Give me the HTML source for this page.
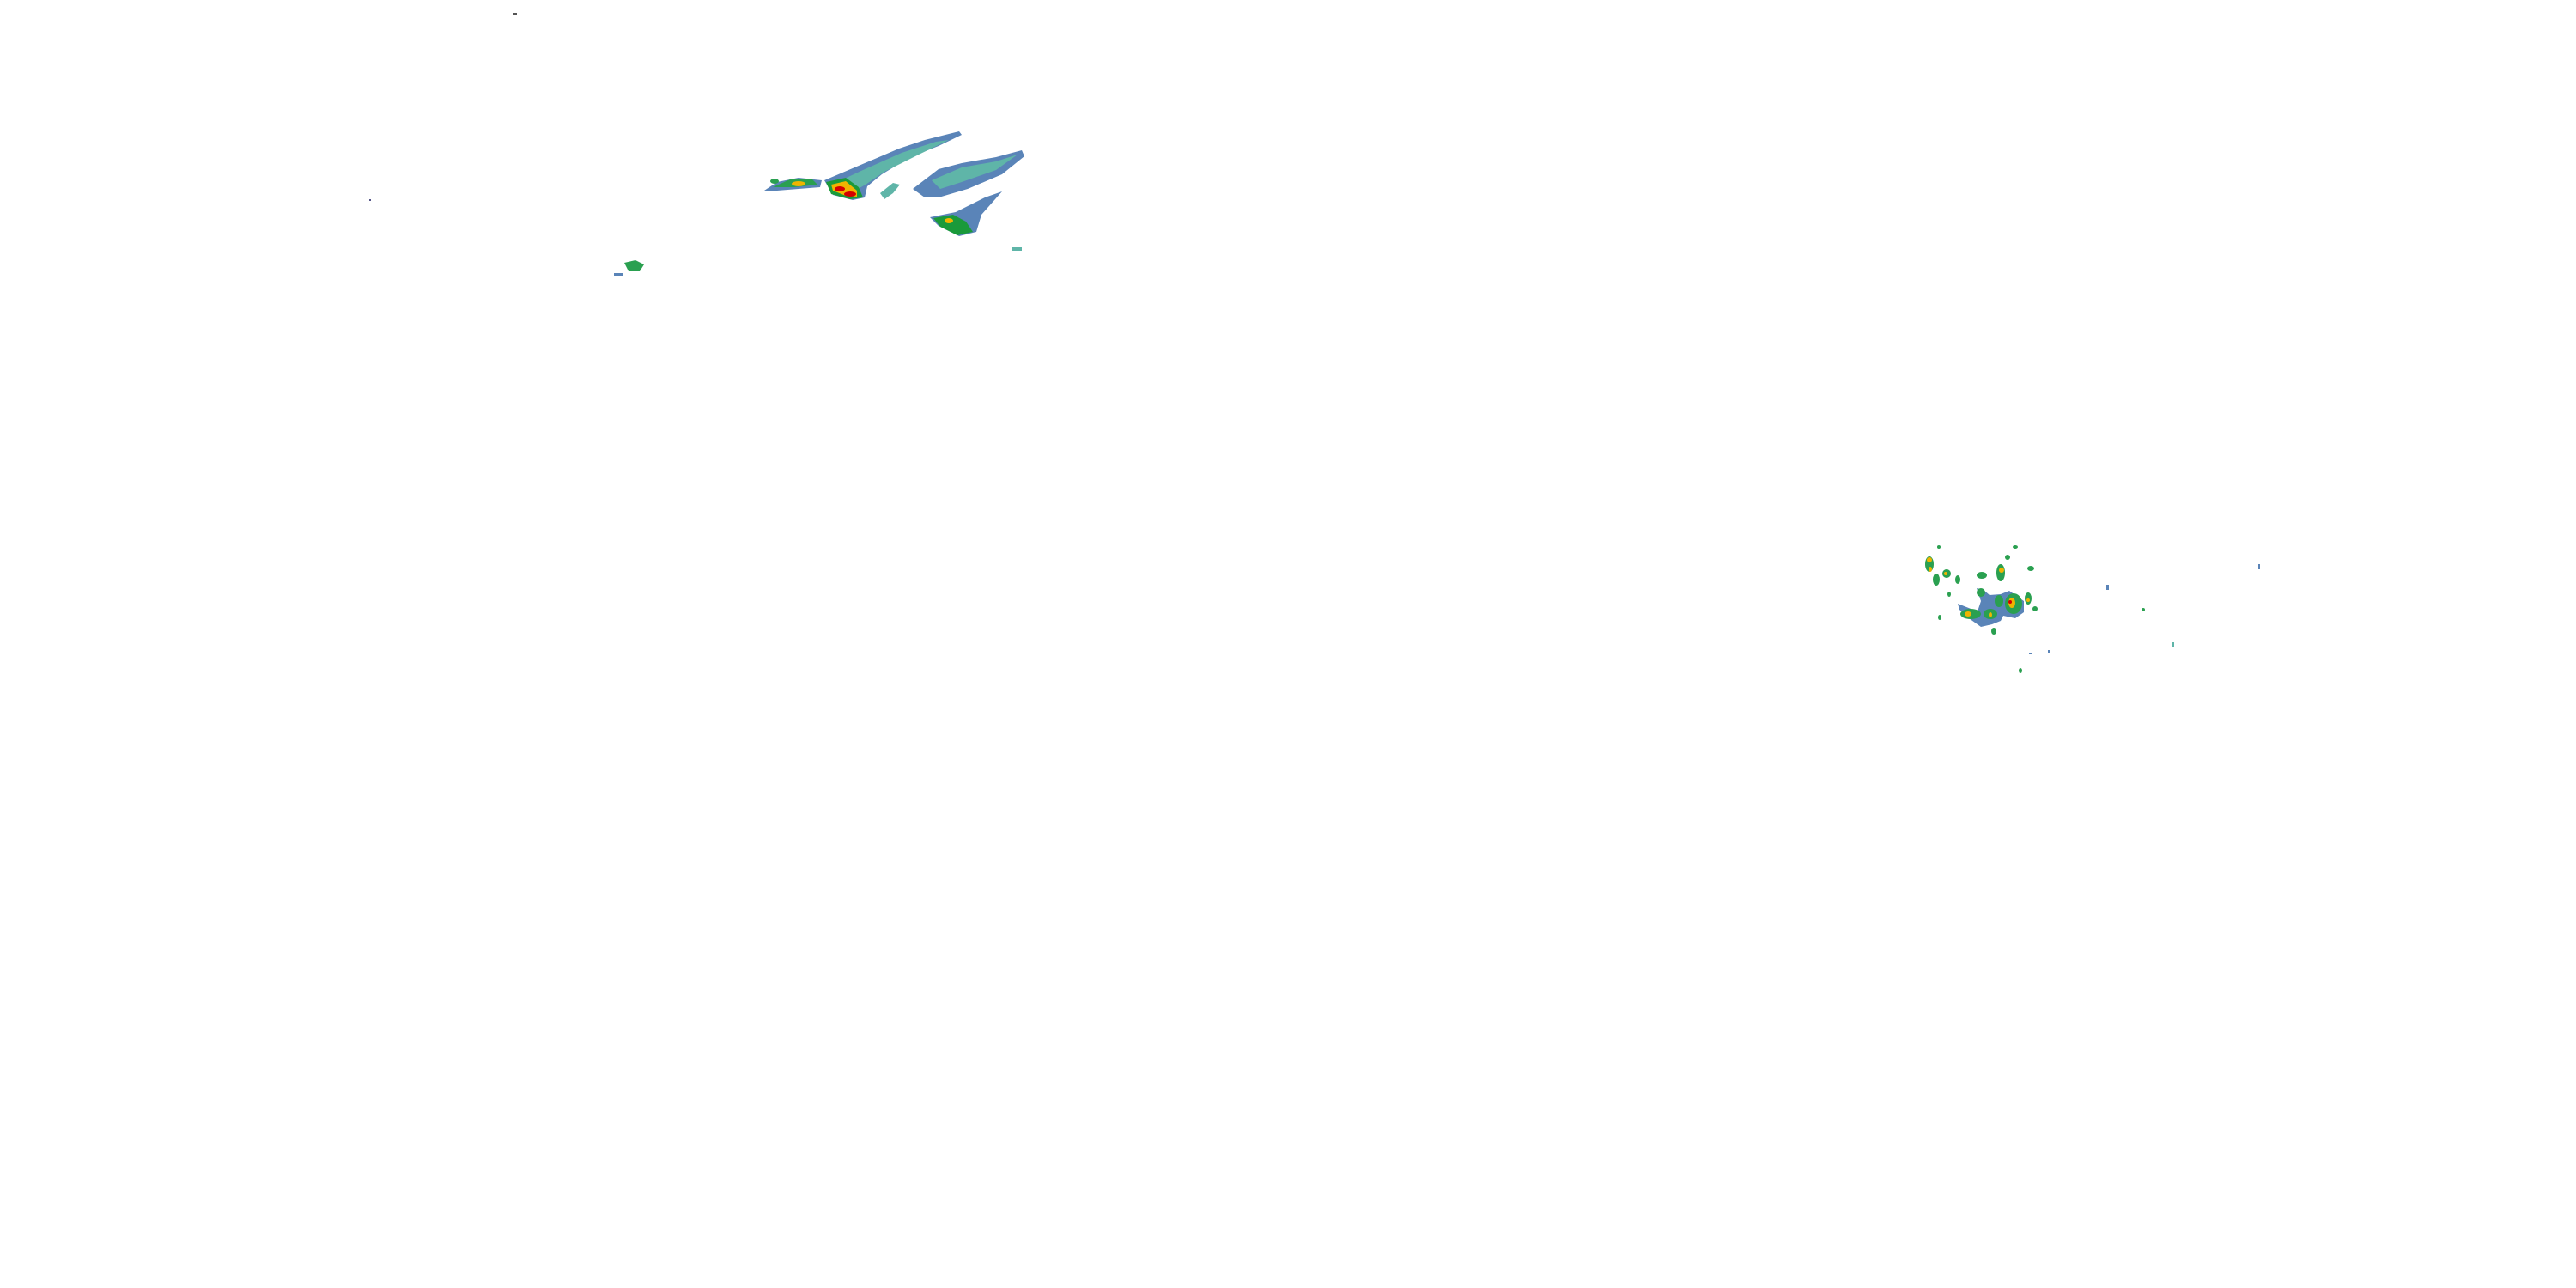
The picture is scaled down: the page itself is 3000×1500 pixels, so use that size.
<!DOCTYPE html>
<html><head><style>html,body{margin:0;padding:0;background:#fff;width:3000px;height:1500px;overflow:hidden}</style></head>
<body>
<svg width="3000" height="1500" viewBox="0 0 3000 1500" xmlns="http://www.w3.org/2000/svg">
<rect width="3000" height="1500" fill="#fff"/>
<rect x="597" y="15" width="5" height="3" fill="#555"/>
<rect x="430" y="232" width="2" height="2" fill="#558"/>
<!-- upper-left system -->
<polygon points="960,210 1000,193 1047,173 1077,163 1117,153 1120,157 1093,170 1060,183 1027,203 1010,217 1007,230 993,233 970,227" fill="#5a84b8"/>
<polygon points="975,212 1005,198 1050,178 1090,165 1105,163 1070,180 1030,200 1008,215 990,225" fill="#5fb5a8"/>
<polygon points="962,212 985,207 1000,218 1005,230 990,232 968,226" fill="#1a9a3a"/>
<polygon points="968,215 985,211 998,222 998,229 985,228 970,222" fill="#f0b400"/>
<ellipse cx="978" cy="220" rx="6" ry="3" fill="#d40000"/>
<ellipse cx="990" cy="226" rx="7" ry="3" fill="#d40000"/>
<polygon points="890,222 905,212 930,207 957,210 955,218 930,220 905,222" fill="#5a84b8"/>
<polygon points="900,218 920,209 945,208 952,215 925,218" fill="#2aa050"/>
<ellipse cx="930" cy="214" rx="8" ry="3" fill="#f0b400"/>
<ellipse cx="902" cy="211" rx="5" ry="3" fill="#2aa050"/>
<polygon points="1063,220 1093,197 1120,190 1160,183 1190,175 1193,182 1167,203 1127,220 1093,230 1077,230" fill="#5a84b8"/>
<polygon points="1085,210 1120,195 1160,188 1185,180 1160,198 1120,212 1095,220" fill="#5fb5a8"/>
<polygon points="1083,253 1113,247 1147,230 1167,223 1143,250 1137,270 1117,275 1093,263" fill="#5a84b8"/>
<polygon points="1087,254 1110,250 1125,258 1133,270 1115,274 1095,264" fill="#1a9a3a"/>
<ellipse cx="1105" cy="257" rx="5" ry="3" fill="#f0b400"/>
<polygon points="1025,225 1040,213 1048,215 1040,225 1030,232" fill="#5fb5a8"/>
<polygon points="727,306 740,303 750,308 745,316 732,316" fill="#2aa050"/>
<rect x="715" y="318" width="10" height="3" fill="#5a84b8"/>
<rect x="1178" y="288" width="12" height="4" fill="#5fb5a8"/>
<!-- right system -->
<polygon points="2280,703 2303,712 2307,700 2302,685 2310,687 2317,693 2330,692 2340,688 2357,700 2357,713 2347,720 2333,717 2330,723 2320,727 2307,730 2293,720 2282,710" fill="#5a84b8"/>
<g fill="#2aa050">
<ellipse cx="2247" cy="657" rx="5" ry="9"/><ellipse cx="2255" cy="675" rx="4" ry="7"/>
<ellipse cx="2267" cy="668" rx="5" ry="5"/><ellipse cx="2280" cy="675" rx="3" ry="5"/>
<ellipse cx="2308" cy="670" rx="6" ry="4"/><ellipse cx="2330" cy="667" rx="5" ry="10"/>
<ellipse cx="2338" cy="649" rx="3" ry="3"/><ellipse cx="2347" cy="637" rx="3" ry="2"/>
<ellipse cx="2258" cy="637" rx="2" ry="2"/><ellipse cx="2365" cy="662" rx="4" ry="3"/>
<ellipse cx="2362" cy="697" rx="4" ry="7"/><ellipse cx="2370" cy="709" rx="3" ry="3"/>
<ellipse cx="2345" cy="703" rx="10" ry="12"/><ellipse cx="2295" cy="715" rx="12" ry="6"/>
<ellipse cx="2318" cy="715" rx="8" ry="6"/><ellipse cx="2328" cy="700" rx="5" ry="7"/>
<ellipse cx="2322" cy="735" rx="3" ry="4"/><ellipse cx="2259" cy="719" rx="2" ry="3"/>
<ellipse cx="2270" cy="692" rx="2" ry="3"/><ellipse cx="2353" cy="781" rx="2" ry="3"/>
<ellipse cx="2496" cy="710" rx="2" ry="2"/><ellipse cx="2307" cy="690" rx="5" ry="5"/>
</g>
<g fill="#f0b400">
<ellipse cx="2247" cy="652" rx="3" ry="3"/><ellipse cx="2248" cy="663" rx="2" ry="3"/>
<ellipse cx="2266" cy="668" rx="2" ry="2"/><ellipse cx="2331" cy="664" rx="3" ry="3"/>
<ellipse cx="2343" cy="702" rx="4" ry="6"/><ellipse cx="2292" cy="715" rx="4" ry="3"/>
<ellipse cx="2318" cy="716" rx="2" ry="3"/><ellipse cx="2362" cy="699" rx="2" ry="2"/>
</g>
<ellipse cx="2341" cy="701" rx="2" ry="2" fill="#d40000"/>
<rect x="2453" y="681" width="3" height="6" fill="#5a84b8"/>
<rect x="2630" y="657" width="2" height="6" fill="#5a84b8"/>
<rect x="2530" y="748" width="2" height="6" fill="#5fb5a8"/>
<rect x="2385" y="757" width="3" height="3" fill="#5a84b8"/>
<rect x="2363" y="760" width="4" height="2" fill="#5a84b8"/>
</svg>
</body></html>
